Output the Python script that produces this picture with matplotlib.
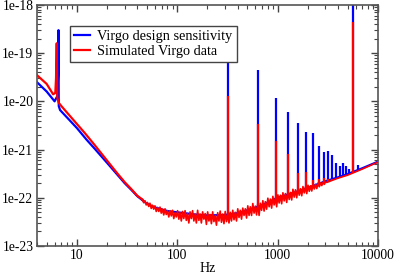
import math
import matplotlib
matplotlib.use("Agg")
import matplotlib.pyplot as plt
from matplotlib.ticker import FuncFormatter, LogLocator, NullFormatter

# Virgo design sensitivity: smooth curve (Hz, strain/sqrt(Hz))
design_freq = [4, 5, 6.0, 6.4, 6.52, 6.56, 6.6, 6.8, 8, 10, 12.5, 15, 20, 25, 30, 35, 40,
               50, 60, 80, 100, 150, 200, 300, 400, 500, 700, 1000, 1500, 2000, 3000,
               4000, 5000, 7000, 10000]
design_h = [2.5e-20, 1.6e-20, 1.0e-20, 1.3e-20, 4e-20, 3e-19, 8e-21, 6.6e-21, 4.6e-21,
            2.8e-21, 1.6e-21, 1.05e-21, 5.3e-22, 3.1e-22, 2.0e-22, 1.45e-22, 1.08e-22,
            7.5e-23, 6.3e-23, 5.3e-23, 5.0e-23, 4.5e-23, 4.3e-23, 4.4e-23, 4.8e-23,
            5.5e-23, 7.0e-23, 1.0e-22, 1.3e-22, 1.6e-22, 2.2e-22, 2.65e-22, 3.1e-22,
            4.1e-22, 5.6e-22]

# Simulated data: low frequency part
sim_low_freq = [4, 5, 5.8, 6.1, 6.2, 6.3, 6.38, 6.6, 7, 8, 10, 12, 15, 20, 25, 30, 35, 40, 45]
sim_low_h = [3.5e-20, 2.3e-20, 1.4e-20, 1.5e-20, 3e-20, 1.6e-19, 1.2e-20, 9.3e-21,
             8e-21, 5.8e-21, 3.4e-21, 2.2e-21, 1.25e-21, 5.9e-22, 3.3e-22, 2.1e-22,
             1.5e-22, 1.1e-22, 9.2e-23]

# Simulated data: noisy part (values in units of 1e-23)
sim_noise_freq = [
    45, 46.3, 47.7, 49.1, 50.5, 52, 53.5, 55.1, 56.7, 58.3, 60, 61.8, 63.6, 65.5, 67.4,
    69.3, 71.4, 73.4, 75.6, 77.8, 80, 82.4, 84.8, 87.3, 89.8, 92.4, 95.1, 97.9, 100.8,
    103.7, 106.7, 109.8, 113, 116.3, 119.7, 123.2, 126.8, 130.5, 134.3, 138.3, 142.3,
    146.5, 150.7, 155.1, 159.7, 164.3, 169.1, 174, 179.1, 184.4, 189.8, 195.3, 201,
    206.9, 212.9, 219.1, 225.5, 232.1, 238.9, 245.9, 253.1, 260.4, 268, 275.9, 283.9,
    292.2, 300.8, 309.5, 318.6, 327.9, 337.5, 347.3, 357.5, 367.9, 378.6, 389.7, 401.1,
    412.8, 424.8, 437.2, 450, 463.1, 476.7, 490.6, 504.9, 519.6, 534.8, 550.4, 566.5,
    583, 600, 617.6, 635.6, 654.1, 673.2, 692.9, 713.1, 733.9, 755.3, 777.4, 800, 823.4,
    847.4, 872.2, 897.6, 923.8, 950.8, 978.5, 1007, 1036, 1067, 1098, 1130, 1163, 1197,
    1232, 1268, 1305, 1343, 1382, 1422, 1464, 1507, 1551, 1596, 1642, 1690, 1740, 1790,
    1843, 1897, 1952, 2009, 2068, 2128, 2190, 2254, 2320, 2388, 2457, 2529, 2603, 2679,
    2757, 2838, 2921, 3006, 3094, 3500, 4000, 5000, 7000, 10000]
sim_noise_h = [
    9.2, 7.9, 8.7, 7.1, 8.0, 6.6, 7.7, 6.0, 7.0, 5.8, 6.8, 5.2, 6.3, 5.2, 6.4,
    4.8, 5.8, 4.4, 5.9, 4.5, 5.4, 4.0, 5.4, 4.2, 5.5, 3.7, 4.9, 4.0, 5.4,
    3.6, 4.9, 3.3, 5.2, 3.7, 5.4, 3.4, 4.7, 3.0, 5.1, 3.7, 5.4,
    3.3, 4.6, 3.0, 5.5, 3.4, 4.6, 3.0, 5.1, 3.6, 4.7, 2.8, 5.1,
    3.3, 4.5, 2.9, 5.1, 3.2, 4.3, 2.7, 4.9, 3.3, 5.3, 3.1, 4.6,
    2.9, 5.2, 3.2, 4.5, 3.0, 5.0, 3.3, 5.5, 3.5, 5.0, 3.3, 5.9,
    3.9, 5.5, 3.6, 6.1, 4.3, 5.9, 3.8, 6.8, 4.3, 6.5, 4.3, 7.6,
    4.8, 6.7, 4.4, 7.7, 4.3, 7.7, 5.5, 8.7, 5.3, 8.3, 5.8, 9.8, 6.5,
    9.4, 6.1, 10.7, 7.1, 9.9, 6.5, 11.5, 7.8, 11.3, 7.5, 12.7, 8.6, 12.2,
    8.0, 13.4, 9.2, 12.9, 9.0, 15.0, 10.3, 14.6, 10.0, 16.0, 11.3, 15.4, 11.0, 17.1,
    12.6, 16.8, 12.2, 18.2, 13.6, 17.7, 13.8, 19.0, 15.2, 19.0, 15.5, 20.2, 16.9, 20.3,
    17.9, 20.8, 19.0, 21.2, 20.8, 23.0, 25.5, 29.5, 39.5, 55]

# Violin modes and other lines
line_freq = [320, 640, 960, 1280, 1600, 1920, 2240, 2560, 2880, 3200, 3520, 3840, 4160,
             4480, 4800, 5120, 5700, 6400]
line_base = [4.0e-23, 6.0e-23, 8.5e-23, 1.1e-22, 1.3e-22, 1.5e-22, 1.7e-22, 1.9e-22,
             2.05e-22, 2.2e-22, 2.35e-22, 2.5e-22, 2.6e-22, 2.75e-22, 2.9e-22, 3.05e-22,
             3.3e-22, 3.7e-22]
line_design_tip = [2e-19, 4.5e-20, 1.2e-20, 6e-21, 3.5e-21, 2.3e-21, 2.2e-21, 1.2e-21,
                   9e-22, 9.5e-22, 7.8e-22, 5.3e-22, 4.6e-22, 5.3e-22, 4.6e-22, 3.9e-22,
                   3e-18, 4.7e-22]
line_sim_tip = [1.3e-20, 3.4e-21, 1.5e-21, 8e-22, 3.3e-22, 3.5e-22, 2.3e-22, 2.4e-22,
                2.6e-22, 2.5e-22, 2.4e-22, 2.5e-22, 2.6e-22, 2.75e-22, 2.9e-22, 3.05e-22,
                4.5e-19, 3.7e-22]

plt.rcParams['font.family'] = ['Liberation Serif', 'DejaVu Serif']
plt.rcParams['font.size'] = 10

fig = plt.figure(figsize=(3.97, 2.73), dpi=100)
ax = fig.add_axes([0.093, 0.099, 0.859, 0.883])

blue = '#0000ff'
red = '#ff0000'

ax.plot(design_freq, design_h, color=blue, lw=1.6, label='Virgo design sensitivity')
ax.vlines(line_freq, line_base, line_design_tip, color=blue, lw=1.6)
ax.plot(sim_low_freq, sim_low_h, color=red, lw=1.6, label='Simulated Virgo data')
ax.plot(sim_noise_freq, [v * 1e-23 for v in sim_noise_h], color=red, lw=1.2)
ax.vlines(line_freq, line_base, line_sim_tip, color=red, lw=1.6)

ax.set_xscale('log')
ax.set_yscale('log')
ax.set_xlim(4, 10000)
ax.set_ylim(1e-23, 1e-18)

ax.xaxis.set_major_formatter(FuncFormatter(lambda v, p: '%d' % round(v)))
ax.yaxis.set_major_formatter(FuncFormatter(lambda v, p: '1e%d' % round(math.log10(v))))
ax.yaxis.set_minor_locator(LogLocator(base=10, subs=range(2, 10), numticks=20))
ax.yaxis.set_minor_formatter(NullFormatter())
ax.xaxis.set_minor_formatter(NullFormatter())

ax.tick_params(which='both', direction='in', top=True, right=True, color='#444444')
ax.tick_params(which='major', length=5, width=1.0, labelsize=9.8, pad=2.5)
ax.tick_params(which='minor', length=3, width=0.8)
for s in ax.spines.values():
    s.set_color('#555555')
    s.set_linewidth(1.2)

ax.set_xlabel('Hz', fontsize=10, labelpad=0)

leg = ax.legend(loc='upper left', bbox_to_anchor=(0.097, 0.913), fontsize=10.3,
                fancybox=False, framealpha=1, edgecolor='#444444',
                handlelength=1.1, handletextpad=0.5, borderpad=0.3, labelspacing=0.1,
                borderaxespad=0)
leg.get_frame().set_linewidth(1.0)

fig.savefig('out.png', dpi=100)
